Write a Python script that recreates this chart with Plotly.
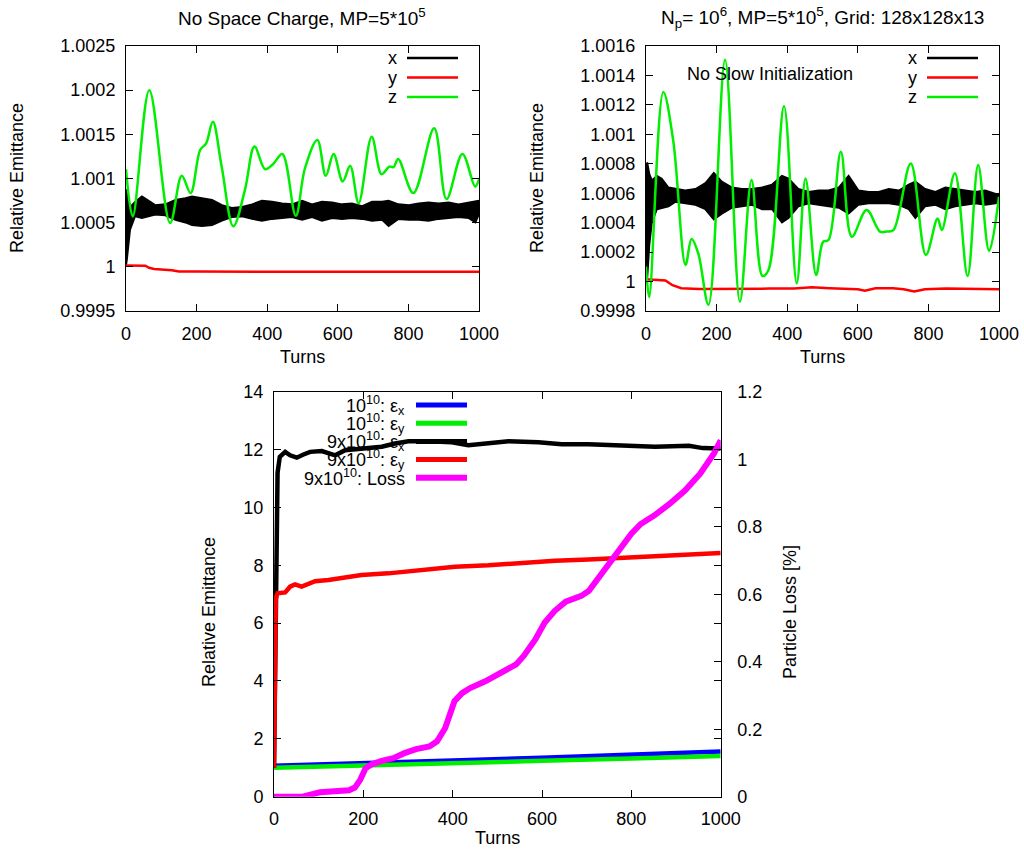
import plotly.graph_objects as go

W, H = 1024, 854
FONT = "Liberation Sans, Arial, sans-serif"

# ---------------- top-left: No Space Charge ----------------
tl_z_turns = [0, 19, 66, 125, 158, 183, 210, 227, 246, 271, 304, 337, 364, 394, 417,
              443, 481, 507, 542, 566, 588, 614, 635, 659, 696, 724, 746, 758, 771,
              814, 873, 908, 953, 989, 1000]
tl_z = [1.001105, 1.000571, 1.0020, 1.000496, 1.00103, 1.000835, 1.001323, 1.001398,
        1.001643, 1.001135, 1.000459, 1.000872, 1.001361, 1.001105, 1.001165, 1.001278,
        1.000579, 1.001116, 1.001436, 1.00103, 1.001278, 1.000966, 1.001143, 1.000722,
        1.001474, 1.001049, 1.001135, 1.00113, 1.001222, 1.000835, 1.001568, 1.000767,
        1.001278, 1.00091, 1.000992]

# envelope of the (noisy) x emittance trace
tl_x_turns = [0, 3, 12, 26, 45, 64, 83, 111, 140, 168, 187, 215, 244, 272, 300, 329, 357,
              385, 414, 442, 470, 499, 527, 555, 584, 612, 640, 669, 697, 725, 744, 772,
              801, 829, 857, 886, 914, 942, 971, 990, 1000]
tl_x_upper = [1.00087, 1.00087, 1.00068, 1.00074, 1.00080, 1.00075, 1.00070, 1.00071,
              1.00076, 1.00078, 1.00080, 1.00078, 1.00076, 1.00070, 1.00067, 1.00068,
              1.00071, 1.00075, 1.00074, 1.00072, 1.00071, 1.00075, 1.00071, 1.00074,
              1.00073, 1.00071, 1.00072, 1.00069, 1.00074, 1.00074, 1.00075, 1.00071,
              1.00070, 1.00072, 1.00073, 1.00072, 1.00073, 1.00071, 1.00073, 1.00075,
              1.00075]
tl_x_lower = [1.00000, 1.00008, 1.00042, 1.00057, 1.00055, 1.00057, 1.00059, 1.00058,
              1.00053, 1.00050, 1.00047, 1.00046, 1.00047, 1.00052, 1.00056, 1.00057,
              1.00054, 1.00052, 1.00054, 1.00055, 1.00056, 1.00053, 1.00056, 1.00052,
              1.00055, 1.00054, 1.00055, 1.00054, 1.00052, 1.00053, 1.00046, 1.00054,
              1.00053, 1.00053, 1.00052, 1.00054, 1.00055, 1.00056, 1.00055, 1.00050,
              1.00059]

tl_y_turns = [0, 55, 65, 80, 130, 150, 200, 300, 400, 500, 600, 700, 800, 900, 1000]
tl_y = [1.000015, 1.000012, 0.99999, 0.999975, 0.999962, 0.999946, 0.999946, 0.999944,
        0.999946, 0.999944, 0.999946, 0.999944, 0.999944, 0.999944, 0.999944]

# ---------------- top-right: N_p = 10^6 ----------------
tr_z_turns = [0, 9, 49, 77, 112, 129, 148, 177, 224, 266, 299, 330, 347, 391, 427, 452,
              482, 502, 517, 552, 583, 625, 663, 682, 701, 750, 793, 826, 838, 875, 911,
              941, 972, 1000]
tr_z = [1.000102, 0.999894, 1.001288, 1.00096, 1.000113, 1.000289, 1.000192, 0.999842,
        1.001507, 0.999864, 1.000689, 1.000038, 1.000079, 1.001191, 0.999989, 1.0007,
        1.000045, 1.000271, 1.000282, 1.000881, 1.000305, 1.000486, 1.000339, 1.00034,
        1.00035, 1.000802, 1.000181, 1.000429, 1.00035, 1.000735, 1.000038, 1.000791,
        1.000208, 1.000576]

tr_x_turns = [0, 4, 10, 17, 31, 45, 64, 83, 111, 140, 168, 192, 215, 244, 272, 300, 329,
              357, 385, 404, 432, 461, 489, 517, 546, 574, 602, 631, 659, 688, 716, 744,
              763, 791, 820, 848, 876, 905, 933, 961, 990, 1000]
tr_x_upper = [1.00078, 1.00081, 1.00073, 1.00069, 1.00072, 1.00070, 1.00064, 1.00063,
              1.00062, 1.00063, 1.00067, 1.00074, 1.00068, 1.00064, 1.00063, 1.00063,
              1.00064, 1.00066, 1.00072, 1.00070, 1.00063, 1.00061, 1.00062, 1.00062,
              1.00064, 1.00072, 1.00062, 1.00061, 1.00061, 1.00063, 1.00062, 1.00066,
              1.00068, 1.00063, 1.00061, 1.00064, 1.00063, 1.00062, 1.00061, 1.00062,
              1.00060, 1.00059]
tr_x_lower = [1.00000, 1.00002, 1.00025, 1.00040, 1.00049, 1.00050, 1.00051, 1.00054,
              1.00053, 1.00052, 1.00049, 1.00042, 1.00046, 1.00050, 1.00051, 1.00052,
              1.00049, 1.00049, 1.00040, 1.00043, 1.00051, 1.00053, 1.00052, 1.00051,
              1.00050, 1.00046, 1.00052, 1.00053, 1.00053, 1.00053, 1.00052, 1.00049,
              1.00043, 1.00051, 1.00052, 1.00049, 1.00051, 1.00052, 1.00053, 1.00052,
              1.00053, 1.00054]

tr_y_turns = [0, 30, 55, 75, 100, 150, 250, 350, 420, 470, 520, 560, 600, 620, 650, 700,
              730, 760, 790, 850, 900, 950, 1000]
tr_y = [1.000016, 1.000014, 1.000008, 0.999975, 0.999955, 0.99995, 0.999953, 0.999952,
        0.999952, 0.999962, 0.999955, 0.999952, 0.999948, 0.999938, 0.999955, 0.999955,
        0.999948, 0.999932, 0.999948, 0.999952, 0.999952, 0.99995, 0.999948]

# ---------------- bottom: intensity comparison ----------------
b_lo_turns = [0, 200, 400, 600, 800, 1000]
b_lo_ex = [1.07, 1.15, 1.25, 1.35, 1.45, 1.56]
b_lo_ey = [1.0, 1.07, 1.16, 1.24, 1.32, 1.41]

b_hi_ex_turns = [0, 2, 4, 6, 8, 13, 25, 36, 51, 66, 81, 107, 137, 159, 196, 241, 271,
                 301, 346, 398, 435, 480, 525, 592, 644, 704, 778, 853, 929, 960, 1000]
b_hi_ex = [1.0, 3.5, 5.24, 9.6, 11.2, 11.75, 11.92, 11.8, 11.72, 11.83, 11.92, 11.95,
           11.8, 11.98, 12.02, 12.1, 12.21, 12.29, 12.29, 12.25, 12.15, 12.21, 12.29,
           12.25, 12.18, 12.18, 12.15, 12.1, 12.13, 12.05, 12.04]

b_hi_ey_turns = [0, 1, 2, 4, 8, 25, 36, 47, 62, 77, 92, 122, 159, 196, 256, 331, 405,
                 480, 554, 629, 704, 778, 853, 929, 1000]
b_hi_ey = [1.0, 3.86, 5.2, 6.86, 7.03, 7.06, 7.26, 7.34, 7.26, 7.37, 7.45, 7.49, 7.57,
           7.66, 7.72, 7.83, 7.95, 8.0, 8.09, 8.16, 8.2, 8.26, 8.31, 8.36, 8.42]

b_loss_turns = [0, 64, 103, 129, 168, 181, 193, 205, 219, 241, 267, 292, 318, 348, 365,
                383, 404, 421, 439, 473, 507, 542, 559, 585, 606, 628, 653, 688, 705, 722,
                748, 774, 800, 821, 851, 886, 920, 954, 985, 1000]
b_loss = [0, 0, 0.013, 0.017, 0.019, 0.027, 0.05, 0.084, 0.096, 0.106, 0.114, 0.129,
          0.141, 0.149, 0.164, 0.203, 0.283, 0.307, 0.322, 0.342, 0.367, 0.392, 0.417,
          0.466, 0.516, 0.55, 0.578, 0.595, 0.61, 0.64, 0.684, 0.729, 0.779, 0.808,
          0.833, 0.868, 0.907, 0.957, 1.017, 1.056]

turn_ticks = [0, 200, 400, 600, 800, 1000]
tl_yticks = [0.9995, 1.0, 1.0005, 1.001, 1.0015, 1.002, 1.0025]
tl_ylabels = ["0.9995", "1", "1.0005", "1.001", "1.0015", "1.002", "1.0025"]
tr_yticks = [0.9998, 1.0, 1.0002, 1.0004, 1.0006, 1.0008, 1.001, 1.0012, 1.0014, 1.0016]
tr_ylabels = ["0.9998", "1", "1.0002", "1.0004", "1.0006", "1.0008", "1.001", "1.0012",
              "1.0014", "1.0016"]
b_yticks = [0, 2, 4, 6, 8, 10, 12, 14]
b_y2ticks = [0, 0.2, 0.4, 0.6, 0.8, 1.0, 1.2]
b_y2labels = ["0", "0.2", "0.4", "0.6", "0.8", "1", "1.2"]

GREEN = "#00ee00"
RED = "#ff0000"
BLUE = "#0000ff"
MAGENTA = "#ff00ff"

fig = go.Figure()


def band(xa, ya, turns, upper, lower):
    fig.add_trace(go.Scatter(x=turns, y=upper, xaxis=xa, yaxis=ya, mode="lines",
                             line=dict(color="black", width=1.5), showlegend=False))
    fig.add_trace(go.Scatter(x=turns, y=lower, xaxis=xa, yaxis=ya, mode="lines",
                             fill="tonexty", fillcolor="black",
                             line=dict(color="black", width=1.5), showlegend=False))


def line(xa, ya, turns, vals, color, width, shape="linear"):
    fig.add_trace(go.Scatter(x=turns, y=vals, xaxis=xa, yaxis=ya, mode="lines",
                             line=dict(color=color, width=width, shape=shape,
                                       smoothing=1.0 if shape == "spline" else None),
                             showlegend=False))


# top-left
band("x", "y", tl_x_turns, tl_x_upper, tl_x_lower)
line("x", "y", tl_y_turns, tl_y, RED, 2.5)
line("x", "y", tl_z_turns, tl_z, GREEN, 2.5, "spline")
# top-right
band("x2", "y2", tr_x_turns, tr_x_upper, tr_x_lower)
line("x2", "y2", tr_y_turns, tr_y, RED, 2.5)
line("x2", "y2", tr_z_turns, tr_z, GREEN, 2.5, "spline")
# bottom
line("x3", "y3", b_lo_turns, b_lo_ex, BLUE, 4.5)
line("x3", "y3", b_lo_turns, b_lo_ey, GREEN, 4.5)
line("x3", "y3", b_hi_ex_turns, b_hi_ex, "black", 4.5)
line("x3", "y3", b_hi_ey_turns, b_hi_ey, RED, 4.5)
line("x3", "y4", b_loss_turns, b_loss, MAGENTA, 6)

tickfont = dict(size=18, color="black", family=FONT)
axis_common = dict(showline=True, linecolor="black", linewidth=1, mirror="ticks",
                   ticks="inside", ticklen=7, tickcolor="black", showgrid=False,
                   zeroline=False, tickfont=tickfont, ticklabelstandoff=6,
                   automargin=False)


def py(p):
    return 1 - p / H


top_ydom = [py(311), py(46)]
bot_ydom = [py(796.7), py(391.7)]

fig.update_layout(
    width=W, height=H,
    margin=dict(l=0, r=0, t=0, b=0, pad=0, autoexpand=False),
    paper_bgcolor="white", plot_bgcolor="white",
    font=dict(family=FONT, size=18, color="black"),
    xaxis=dict(domain=[126 / W, 479 / W], anchor="y", range=[0, 1000],
               tickvals=turn_ticks, **axis_common),
    yaxis=dict(domain=top_ydom, anchor="x", range=[0.9995, 1.0025],
               tickvals=tl_yticks, ticktext=tl_ylabels, **axis_common),
    xaxis2=dict(domain=[646 / W, 999 / W], anchor="y2", range=[0, 1000],
                tickvals=turn_ticks, **axis_common),
    yaxis2=dict(domain=top_ydom, anchor="x2", range=[0.9998, 1.0016],
                tickvals=tr_yticks, ticktext=tr_ylabels, **axis_common),
    xaxis3=dict(domain=[274 / W, 720.7 / W], anchor="y3", range=[0, 1000],
                tickvals=turn_ticks, **axis_common),
    yaxis3=dict(domain=bot_ydom, anchor="x3", range=[0, 14], tickvals=b_yticks,
                **axis_common),
    yaxis4=dict(overlaying="y3", anchor="x3", side="right", range=[0, 1.2],
                tickvals=b_y2ticks, ticktext=b_y2labels, showline=True,
                linecolor="black", ticks="inside", ticklen=7, tickcolor="black",
                showgrid=False, zeroline=False, tickfont=tickfont,
                ticklabelstandoff=12, automargin=False),
)

ann = []
shapes = []


def text(x, y, s, size=18, angle=0, xanchor="center"):
    ann.append(dict(x=x / W, y=py(y), xref="paper", yref="paper", text=s,
                    showarrow=False, textangle=angle, xanchor=xanchor,
                    yanchor="middle", font=dict(size=size, family=FONT, color="black")))


# titles
text(302, 17, "No Space Charge, MP=5*10<sup>5</sup>", 19)
text(822, 17, "N<sub>p</sub>= 10<sup>6</sup>, MP=5*10<sup>5</sup>, Grid: 128x128x13", 19)
text(770, 74, "No Slow Initialization")
# axis titles
text(302, 357, "Turns")
text(822, 357, "Turns")
text(497, 838, "Turns")
text(17, 178, "Relative Emittance", angle=-90)
text(537, 178, "Relative Emittance", angle=-90)
text(209, 612, "Relative Emittance", angle=-90)
text(790, 612, "Particle Loss [%]", angle=-90)


def key(text_right, x0, x1, y, label, color, width):
    text(text_right, y, label, xanchor="right")
    shapes.append(dict(type="line", xref="paper", yref="paper", x0=x0 / W, x1=x1 / W,
                       y0=py(y), y1=py(y), line=dict(color=color, width=width)))


key_labels_top = ["x", "y", "z"]
key_colors_top = ["black", RED, GREEN]
for i, (lab, col) in enumerate(zip(key_labels_top, key_colors_top)):
    ypos = 58 + i * 19.5
    key(399, 407, 458, ypos, lab, col, 2.5)
    key(919, 927, 978, ypos, lab, col, 2.5)

key_labels_bot = ["10<sup>10</sup>: ε<sub>x</sub>", "10<sup>10</sup>: ε<sub>y</sub>",
                  "9x10<sup>10</sup>: ε<sub>x</sub>", "9x10<sup>10</sup>: ε<sub>y</sub>",
                  "9x10<sup>10</sup>: Loss"]
key_colors_bot = [BLUE, GREEN, "black", RED, MAGENTA]
for i, (lab, col) in enumerate(zip(key_labels_bot, key_colors_bot)):
    key(407, 416, 467, 405 + i * 18.2, lab, col, 5 if col != MAGENTA else 6)

fig.update_layout(annotations=ann, shapes=shapes)
fig.write_html("out.html")
